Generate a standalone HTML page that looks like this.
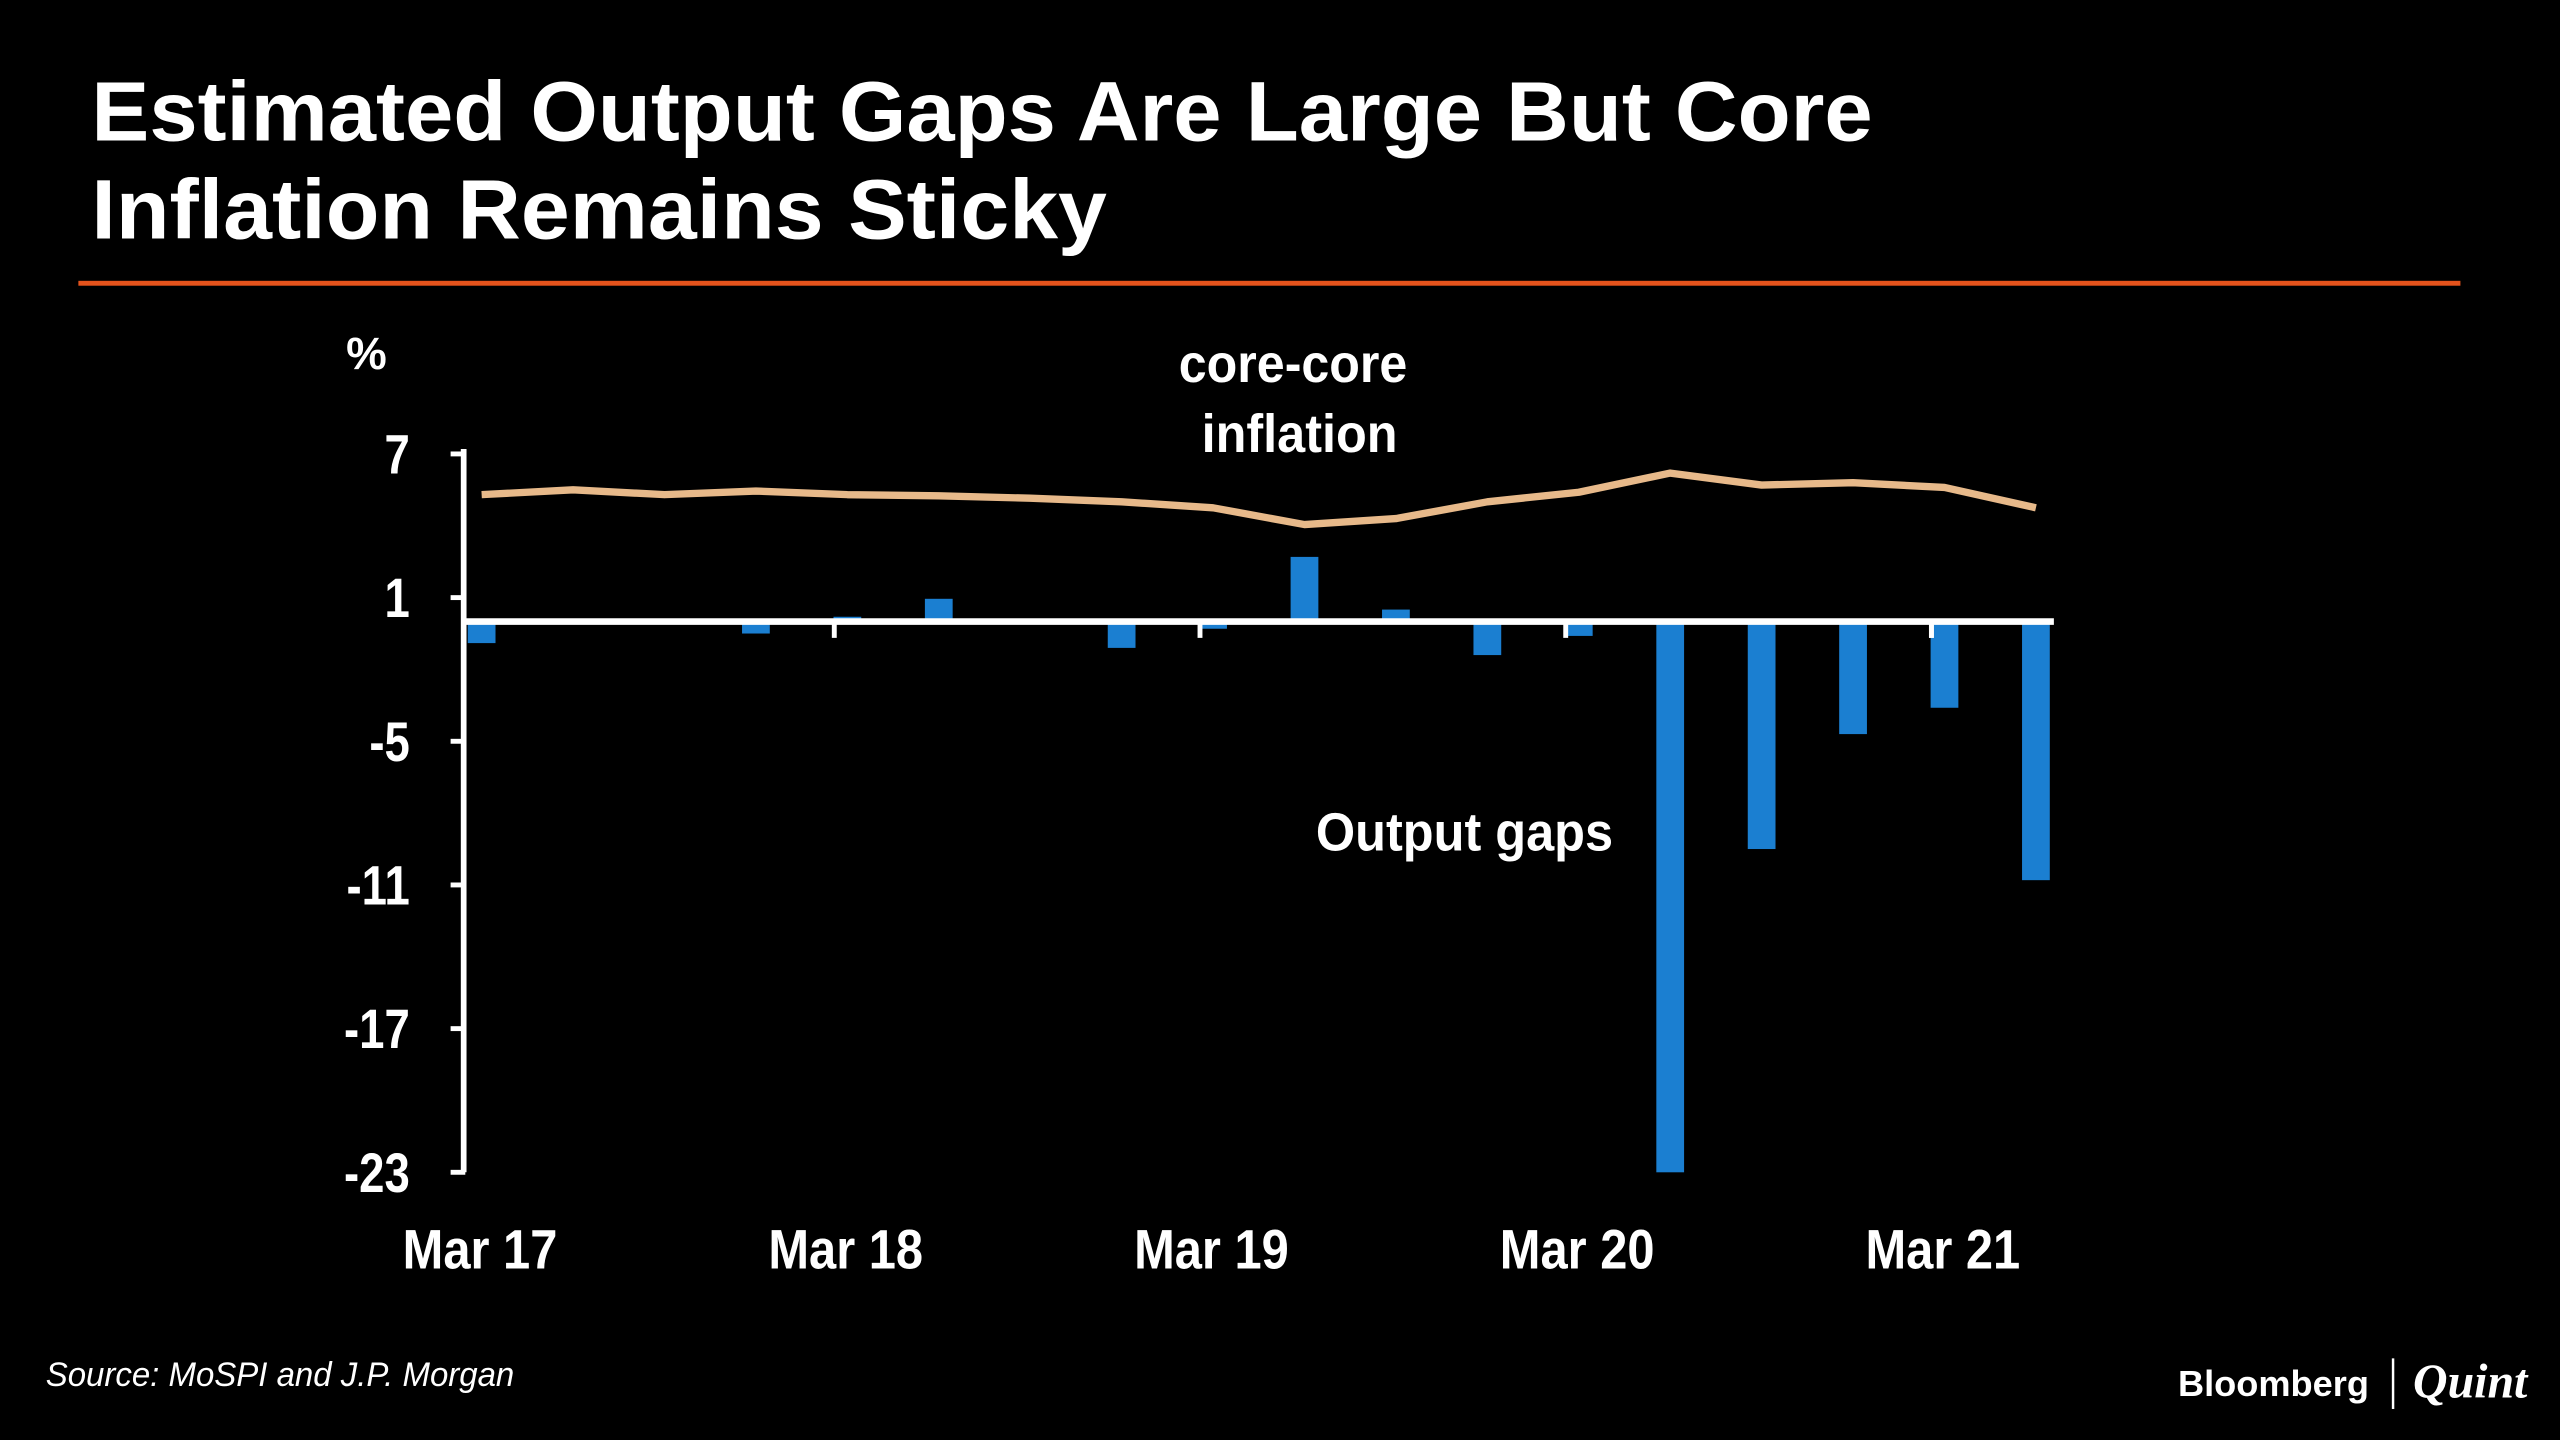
<!DOCTYPE html>
<html><head><meta charset="utf-8"><style>
html,body{margin:0;padding:0;background:#000;}
svg{display:block;}
.t{font-family:"Liberation Sans",sans-serif;font-weight:bold;fill:#fff;}
.n{font-family:"Liberation Sans",sans-serif;font-weight:bold;fill:#fff;}
</style></head><body>
<svg id="chart" width="2560" height="1440" viewBox="0 0 1568 882" xmlns="http://www.w3.org/2000/svg">
<rect width="1568" height="882" fill="#000"/>
<text class="t" x="56" y="86" font-size="52" textLength="1091" lengthAdjust="spacingAndGlyphs">Estimated Output Gaps Are Large But Core</text>
<text class="t" x="56" y="146" font-size="52" textLength="622" lengthAdjust="spacingAndGlyphs">Inflation Remains Sticky</text>
<rect x="48" y="172" width="1459" height="3" fill="#e4531c"/>
<text class="n" x="212" y="226" font-size="28">%</text>
<text class="n" x="722" y="234" font-size="33" textLength="140" lengthAdjust="spacingAndGlyphs">core-core</text>
<text class="n" x="736" y="277" font-size="33" textLength="120" lengthAdjust="spacingAndGlyphs">inflation</text>
<text class="n" x="806" y="521" font-size="33" textLength="182" lengthAdjust="spacingAndGlyphs">Output gaps</text>
<g id="plot"></g>
<text x="28" y="849" font-size="21" font-style="italic" fill="#fff" font-family="Liberation Sans,sans-serif" textLength="287" lengthAdjust="spacingAndGlyphs">Source: MoSPI and J.P. Morgan</text>
<text class="t" x="1334" y="855" font-size="22" textLength="117" lengthAdjust="spacingAndGlyphs">Bloomberg</text>
<rect x="1465" y="832" width="1.5" height="31" fill="#fff"/>
<text x="1478" y="856" font-size="30" font-style="italic" font-weight="bold" fill="#fff" font-family="Liberation Serif,serif" textLength="70" lengthAdjust="spacingAndGlyphs">Quint</text>
</svg>
<script>
const categories=["Mar 17","Jun 17","Sep 17","Dec 17","Mar 18","Jun 18","Sep 18","Dec 18","Mar 19","Jun 19","Sep 19","Dec 19","Mar 20","Jun 20","Sep 20","Dec 20","Mar 21","Jun 21"];
const outputGap=[-0.9,0,0,-0.5,0.2,0.95,-0.1,-1.1,-0.3,2.7,0.5,-1.4,-0.6,-23,-9.5,-4.7,-3.6,-10.8];
const coreCore=[5.3,5.5,5.3,5.45,5.3,5.25,5.15,5.0,4.75,4.05,4.3,5.0,5.4,6.2,5.7,5.8,5.6,4.75];
const yTicks=[7,1,-5,-11,-17,-23];
const xTickLabels=["Mar 17","Mar 18","Mar 19","Mar 20","Mar 21"];
const NS="http://www.w3.org/2000/svg";
const g=document.getElementById('plot');
function y(v){return 380.7-(v)*88/6;}
function x(i){return 295+i*56.0;}
function mk(t,a){const e=document.createElementNS(NS,t);for(const k in a)e.setAttribute(k,a[k]);g.appendChild(e);return e;}
outputGap.forEach((v,i)=>{
  const b=mk('rect',{x:x(i)-8.5,y:Math.min(y(v),y(0)),width:17,height:Math.abs(y(v)-y(0)),fill:'#1b7fd1'});
  
  
});
const pts=coreCore.map((v,i)=>x(i)+','+y(v)).join(' ');
const ln=mk('polyline',{points:pts,fill:'none',stroke:'#e7b98a','stroke-width':4.5,'stroke-linejoin':'round'});


const ya=mk('line',{x1:284,x2:284,y1:275,y2:718,stroke:'#fff','stroke-width':3.5});


yTicks.forEach(v=>{
  const tk=mk('line',{x1:276,x2:285,y1:y(v),y2:y(v),stroke:'#fff','stroke-width':3});
  
  
  const t=mk('text',{transform:'translate(251,'+(y(v)+12)+') scale(0.82,1)','font-size':34,'text-anchor':'end',class:'n'});
  t.textContent=String(v);
  
  
});
const za=mk('line',{x1:284,x2:1258,y1:y(0),y2:y(0),stroke:'#fff','stroke-width':4});


xTickLabels.forEach((l,k)=>{
  const i=k*4;
  if(k>0){
    const tk=mk('line',{x1:x(i)-8,x2:x(i)-8,y1:y(0),y2:y(0)+10,stroke:'#fff','stroke-width':3});
    
    
  }
  const t=mk('text',{transform:'translate('+(x(i)-1)+',777) scale(0.88,1)','font-size':34,'text-anchor':'middle',class:'n'});
  t.textContent=l;
  
  
});
const tk16=mk('line',{x1:x(16)-8,x2:x(16)-8,y1:y(0),y2:y(0)+10,stroke:'#fff','stroke-width':3});


</script>
</body></html>
